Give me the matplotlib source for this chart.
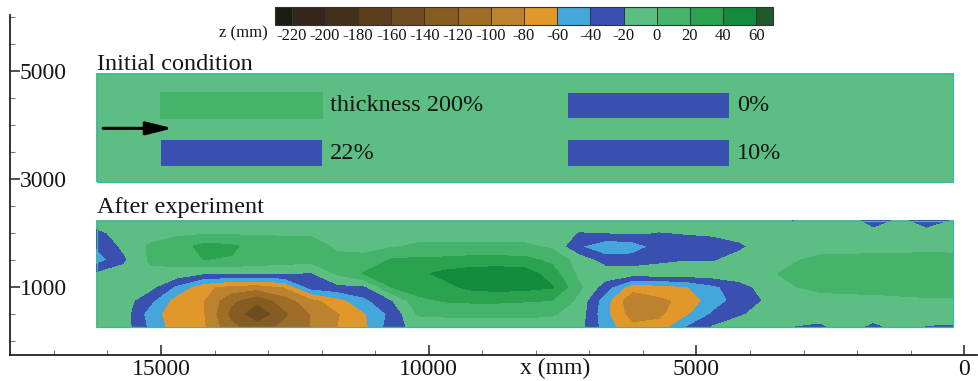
import numpy as np
import matplotlib
matplotlib.use('Agg')
import matplotlib.pyplot as plt
from matplotlib.colors import ListedColormap, BoundaryNorm
from matplotlib.ticker import MultipleLocator, FixedLocator
from matplotlib.patches import Rectangle
from matplotlib.transforms import blended_transform_factory

plt.rcParams['font.family'] = ['Liberation Serif', 'DejaVu Serif']
plt.rcParams['axes.unicode_minus'] = False

# ---------------- data ----------------
levels = [-220, -200, -180, -160, -140, -120, -100, -80, -60, -40, -20, 0, 20, 40, 60]
level_colors = ['#34261a', '#44301a', '#5a3e1c', '#6f4c1f', '#875c23', '#a06d28',
                '#bd8230', '#e2972a', '#45a6dc', '#3a50b0', '#5dbe84', '#45b46a',
                '#2aa24e', '#138a3c']
under_color = '#1c1c16'
over_color = '#1f5a2c'

# Initial condition (before experiment)
init_x_range = [200, 16200]
init_y_range = [2950, 4950]
init_background = -10
block_x0 = [12000, 12000, 4400, 4400]
block_x1 = [15000, 15000, 7400, 7400]
block_y0 = [4130, 3230, 4130, 3230]
block_y1 = [4600, 3730, 4600, 3730]
block_z = [10, -30, -30, -30]
block_labels = ['thickness 200%', '22%', '0%', '10%']

arrow_x = [16080, 14780]
arrow_y = 3940

# After experiment: measured bed elevation z (mm), one list per x station
after_x = [16200, 15700, 15200, 14700, 14200, 13700, 13200, 12700, 12200, 11700, 11200,
           10700, 10200, 9700, 9200, 8700, 8200, 7700, 7200, 6700, 6200, 5700, 5200,
           4700, 4200, 3700, 3200, 2700, 2200, 1700, 1200, 700, 200]
after_y = [250, 500, 750, 1000, 1250, 1500, 1750, 2000, 2230]
after_cols = [
    [-10, -10, -10, -10, -18, -50, -38, -25, -10],
    [-10, -10, -10, -10, -12, -24, -16, -12, -10],
    [-45, -50, -35, -14, -5, 3, 3, -8, -10],
    [-72, -74, -70, -45, -8, 8, 8, -3, -10],
    [-78, -80, -80, -75, -19, 20, 28, -3, -10],
    [-115, -125, -115, -88, -19, 18, 24, -3, -10],
    [-130, -158, -135, -92, -19, 12, 12, -3, -10],
    [-115, -125, -110, -80, -19, 10, 10, -3, -10],
    [-100, -100, -88, -32, -22, 6, 8, -3, -10],
    [-80, -82, -68, -25, 3, 5, -3, -8, -10],
    [-65, -62, -45, -24, 22, 5, -5, -8, -10],
    [-30, -35, -22, 20, 30, 22, -2, -8, -10],
    [-12, 2, 15, 30, 36, 24, 3, -8, -10],
    [-10, 3, 22, 35, 45, 25, 3, -8, -10],
    [-8, 3, 24, 45, 50, 28, 3, -8, -10],
    [-8, 3, 24, 48, 52, 28, 3, -8, -10],
    [-8, 3, 22, 46, 50, 26, 3, -8, -10],
    [-10, 2, 20, 42, 30, 15, -3, -10, -10],
    [-12, -8, -5, 5, -5, -8, -38, -21, -10],
    [-50, -55, -52, -30, -8, -30, -56, -20.5, -10],
    [-75, -90, -97, -72, -10, -30, -52, -18, -10],
    [-72, -85, -85, -68, -8, -25, -32, -21, -10],
    [-40, -65, -75, -62, -8, -21, -30, -19, -10],
    [-18, -38, -50, -45, -8, -22, -30, -17, -10],
    [-12, -22, -32, -28, -8, -12, -24, -12, -10],
    [-10, -14, -18, -12, -3, -8, -10, -10, -10],
    [-21, -10, -10, -1, 4, -2, -10, -10, -21],
    [-25, -10, -8, 5, 8, 5, -8, -10, -10],
    [-12, -10, -5, 5, 8, 6, -8, -12, -12],
    [-26, -10, -5, 6, 8, 7, -8, -15, -28],
    [-14, -10, -3, 6, 8, 7, -8, -14, -17],
    [-22, -10, -2, 7, 9, 7, -5, -15, -28],
    [-23, -10, -2, 7, 9, 6, -6, -12, -19],
]

x_ticks = [15000, 10000, 5000, 0]
y_ticks = [1000, 3000, 5000]

# ---------------- figure ----------------
cmap = ListedColormap(level_colors)
cmap.set_under(under_color)
cmap.set_over(over_color)
norm = BoundaryNorm(levels, cmap.N)

fig = plt.figure(figsize=(9.79, 3.81), dpi=100)
ax = fig.add_axes([10 / 979, 1 - 355 / 381, 967 / 979, 340 / 381])
ax.set_xlim(17820, -240)
ax.set_ylim(-260, 6040)

# initial condition field
gx = np.arange(init_x_range[0], init_x_range[1] + 1, 25)
gy = np.arange(init_y_range[0], init_y_range[1] + 1, 10)
GX, GY = np.meshgrid(gx, gy)
Z0 = np.full(GX.shape, float(init_background))
for x0, x1, y0, y1, zv in zip(block_x0, block_x1, block_y0, block_y1, block_z):
    Z0[(GX >= x0) & (GX <= x1) & (GY >= y0) & (GY <= y1)] = zv
ax.contourf(gx, gy, Z0, levels=levels, cmap=cmap, norm=norm, extend='both')

# after experiment field
Z1 = np.array(after_cols, dtype=float).T
cs = ax.contourf(after_x, after_y, Z1, levels=levels, cmap=cmap, norm=norm, extend='both')

for (xr, yr) in [(init_x_range, init_y_range), (init_x_range, [after_y[0], after_y[-1]])]:
    ax.add_patch(Rectangle((xr[0], yr[0]), xr[1] - xr[0], yr[1] - yr[0],
                           fill=False, ec='#3cb89a', lw=0.9, zorder=3))

txt = '#151515'
for x0, y0, y1, lab in zip(block_x0, block_y0, block_y1, block_labels):
    ax.text(x0 - 160, (y0 + y1) / 2, lab, ha='left', va='center', fontsize=17.5, color=txt)

ax.annotate('', xy=(arrow_x[1], arrow_y), xytext=(arrow_x[0], arrow_y),
            arrowprops=dict(arrowstyle='-|>,head_length=0.8,head_width=0.2',
                            color='black', lw=2.2, mutation_scale=20,
                            shrinkA=0, shrinkB=0))

ax.text(16200, 5030, 'Initial condition', ha='left', va='baseline', fontsize=17.5, color=txt)
ax.text(16200, 2380, 'After experiment', ha='left', va='baseline', fontsize=17.5, color=txt)

# axes styling
for s in ['top', 'right']:
    ax.spines[s].set_visible(False)
for s in ['left', 'bottom']:
    ax.spines[s].set_color('#222222')
    ax.spines[s].set_linewidth(1.3)
ax.xaxis.set_major_locator(FixedLocator(x_ticks))
ax.xaxis.set_minor_locator(MultipleLocator(1000))
ax.yaxis.set_major_locator(FixedLocator(y_ticks))
ax.yaxis.set_minor_locator(MultipleLocator(500))
ax.set_xticklabels([str(v) for v in x_ticks])
ax.set_yticklabels([str(v) for v in y_ticks])
ax.tick_params(axis='both', which='major', direction='in', length=7, width=1.1,
               colors='#222222', labelsize=17, labelcolor=txt)
ax.tick_params(axis='both', which='minor', direction='in', length=3.5, width=0.8,
               colors='#777777')
ax.tick_params(axis='x', which='major', pad=3)
ax.tick_params(axis='y', which='major', pad=-7)
for lab in ax.get_yticklabels():
    lab.set_horizontalalignment('left')

trans = blended_transform_factory(ax.transData, ax.transAxes)
ax.text(7640, -0.04, 'x (mm)', transform=trans, ha='center', va='center',
        fontsize=17, color=txt)

# colorbar
cax = fig.add_axes([275 / 979, 1 - 25 / 381, 498 / 979, 18 / 381])
cb = fig.colorbar(cs, cax=cax, orientation='horizontal', extendrect=True,
                  extendfrac=0.5 / 14, drawedges=True, ticks=levels)
cb.set_ticklabels([str(v) for v in levels])
cb.ax.tick_params(length=0, labelsize=12, pad=2, labelcolor=txt)
cb.outline.set_edgecolor('#333333')
cb.outline.set_linewidth(0.8)
cb.dividers.set_color('#333333')
cb.dividers.set_linewidth(0.7)
fig.text(268 / 979, 1 - 33 / 381, 'z (mm)', ha='right', va='center',
         fontsize=12, color=txt)

fig.savefig('out.png', dpi=100)
